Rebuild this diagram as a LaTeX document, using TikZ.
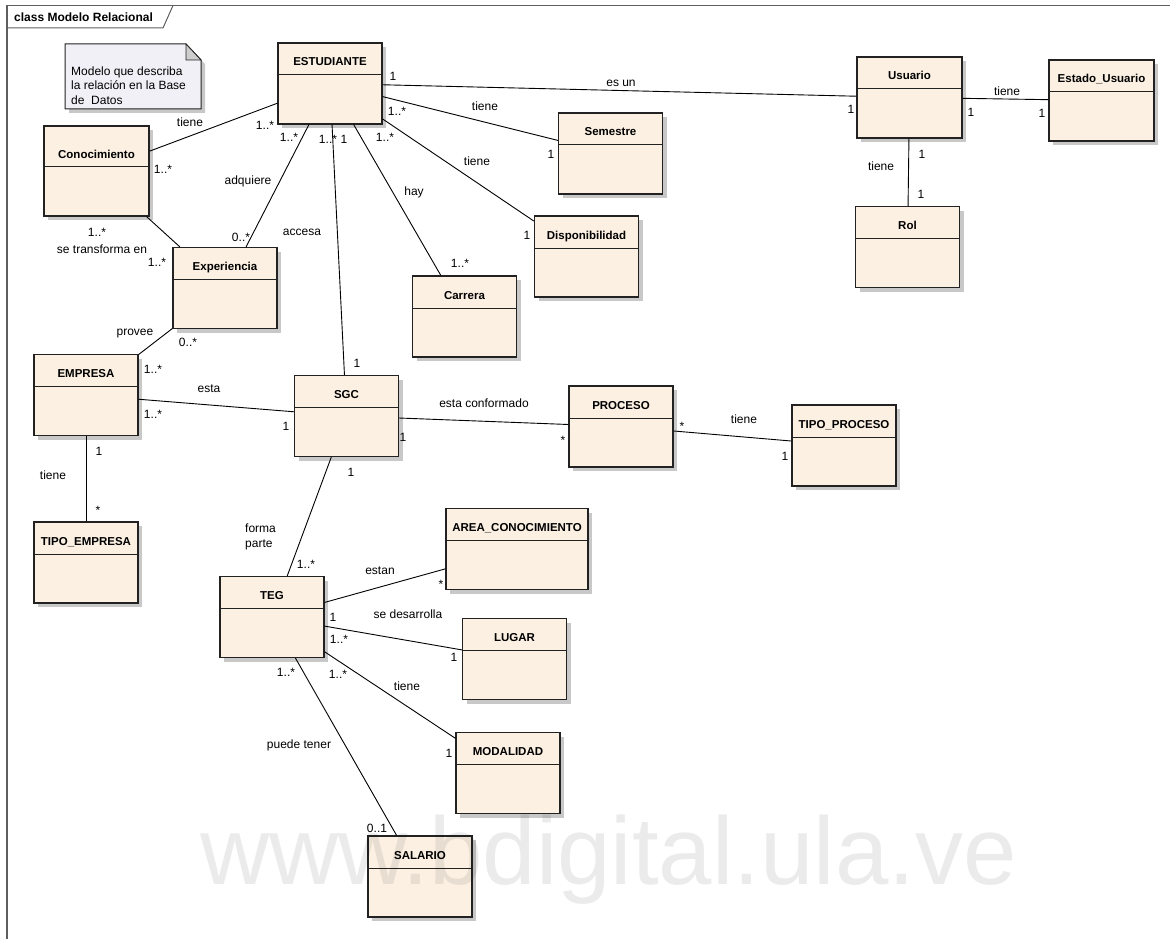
\documentclass[tikz,border=0pt]{standalone}
\usepackage{fontspec}
\setmainfont{Liberation Sans}
\usepackage{tikz}
\usetikzlibrary{shadows}

\definecolor{claseFondo}{RGB}{251,240,226}
\definecolor{claseBorde}{RGB}{34,34,34}
\definecolor{sombra}{RGB}{200,200,200}
\definecolor{notaFondo}{RGB}{242,240,247}
\definecolor{pliegue}{RGB}{205,205,205}
\definecolor{marcoLinea}{RGB}{95,95,95}

\begin{document}
\begin{tikzpicture}[x=1pt,y=-1pt]
\tikzset{
	clase/.style = {rectangle, draw=claseBorde, fill=claseFondo, line width=1.2pt, inner sep=0pt,
		minimum width=104pt, minimum height=81pt, text height=23pt, text depth=58pt,
		font=\fontsize{11.5}{13}\selectfont\bfseries,
		drop shadow={shadow xshift=4pt, shadow yshift=-4pt, fill=sombra, opacity=1},
		path picture={\draw[claseBorde, line width=1pt]
			([yshift=-#1pt]path picture bounding box.north west) --
			([yshift=-#1pt]path picture bounding box.north east);}},
	clase/.default = 32,
	rel/.style = {draw=black, line width=0.9pt},
	mult/.style = {font=\fontsize{12}{15}\selectfont, inner sep=0pt, anchor=base},
	marco/.style = {draw=marcoLinea, line width=1.6pt}
}
\useasboundingbox (0,0) rectangle (1170,939);

% frame and its tab
\draw[marco] (1170,5.5) -- (7,5.5) -- (7,939);
\draw[draw=marcoLinea, line width=1pt] (173,5.5) -- (163,28) -- (7,28);
\node[font=\fontsize{12}{14}\selectfont\bfseries, anchor=base west, inner sep=0pt] (titulo) at (14,22) {class Modelo Relacional};

% note
\draw[claseBorde, fill=notaFondo, line width=1pt,
	drop shadow={shadow xshift=4pt, shadow yshift=-4pt, fill=sombra, opacity=1}]
	(65,44) -- (186,44) -- (201,60) -- (201,109) -- (65,109) -- cycle;
\filldraw[fill=pliegue, draw=claseBorde, line width=0.8pt] (186,44) -- (186,60) -- (201,60) -- cycle;
\node[font=\fontsize{12}{14.5}\selectfont, align=left, anchor=west, inner sep=0pt] (nota) at (71,85.6)
	{Modelo que describa\\la relación en la Base\\de\ \ Datos};

% classes
\node[clase] (estudiante) at (330,83.5) {ESTUDIANTE};
\node[clase=41, minimum width=105pt, minimum height=90pt, text height=32pt] (conocimiento) at (96.5,171) {Conocimiento};
\node[clase, minimum width=105pt] (usuario) at (909.5,97.5) {Usuario};
\node[clase, minimum width=105pt] (estado) at (1101.5,100.5) {Estado\_Usuario};
\node[clase] (rol) at (907.5,247) {Rol};
\node[clase] (semestre) at (610.5,153.5) {Semestre};
\node[clase] (disponibilidad) at (586.5,256.5) {Disponibilidad};
\node[clase] (carrera) at (464.5,316.5) {Carrera};
\node[clase] (experiencia) at (225,288) {Experiencia};
\node[clase] (empresa) at (86,395) {EMPRESA};
\node[clase] (sgc) at (346.5,416) {SGC};
\node[clase] (tipoempresa) at (86,562.5) {TIPO\_EMPRESA};
\node[clase] (proceso) at (621,426.5) {PROCESO};
\node[clase] (tipoproceso) at (844,445.5) {TIPO\_PROCESO};
\node[clase, minimum width=142pt] (area) at (517,549) {AREA\_CONOCIMIENTO};
\node[clase] (teg) at (272,617) {TEG};
\node[clase] (lugar) at (514.5,659) {LUGAR};
\node[clase] (modalidad) at (508,773) {MODALIDAD};
\node[clase] (salario) at (420,876.5) {SALARIO};

% associations
\draw[rel] (estudiante) -- (usuario);
\draw[rel] (usuario) -- (estado);
\draw[rel] (usuario) -- (rol);
\draw[rel] (estudiante) -- (semestre);
\draw[rel] (estudiante) -- (disponibilidad);
\draw[rel] (estudiante) -- (carrera);
\draw[rel] (estudiante) -- (sgc);
\draw[rel] (estudiante) -- (experiencia);
\draw[rel] (estudiante) -- (conocimiento);
\draw[rel] (conocimiento) -- (experiencia);
\draw[rel] (experiencia) -- (empresa);
\draw[rel] (empresa) -- (sgc);
\draw[rel] (empresa) -- (tipoempresa);
\draw[rel] (sgc) -- (proceso);
\draw[rel] (proceso) -- (tipoproceso);
\draw[rel] (sgc) -- (teg);
\draw[rel] (teg) -- (area);
\draw[rel] (teg) -- (lugar);
\draw[rel] (teg) -- (modalidad);
\draw[rel] (teg) -- (salario);

% role names and multiplicities
\node[mult] (esun) at (621,87) {es un};
\node[mult] (esun1) at (393,81) {1};
\node[mult] (esun2) at (851,114) {1};

\node[mult] (usest) at (1007,96) {tiene};
\node[mult] (usest1) at (971,117) {1};
\node[mult] (usest2) at (1042,118) {1};

\node[mult] (usrol) at (881,171) {tiene};
\node[mult] (usrol1) at (922,158) {1};
\node[mult] (usrol2) at (921,198) {1};

\node[mult] (essem) at (485,111) {tiene};
\node[mult] (essem1) at (397,116) {1..*};
\node[mult] (essem2) at (551,158) {1};

\node[mult] (esdis) at (477,165) {tiene};
\node[mult] (esdis1) at (385,142) {1..*};
\node[mult] (esdis2) at (527,239) {1};

\node[mult] (escar) at (414,195) {hay};
\node[mult] (escar1) at (344,144) {1};
\node[mult] (escar2) at (460,267) {1..*};

\node[mult] (essgc) at (302,235) {accesa};
\node[mult] (essgc1) at (328,144) {1..*};
\node[mult] (essgc2) at (357,367) {1};

\node[mult] (esexp) at (248,184) {adquiere};
\node[mult] (esexp1) at (289,142) {1..*};
\node[mult] (esexp2) at (241,241) {0..*};

\node[mult] (escon) at (190,127) {tiene};
\node[mult] (escon1) at (265,130) {1..*};
\node[mult] (escon2) at (163,174) {1..*};

\node[mult] (conexp) at (102,253) {se transforma en};
\node[mult] (conexp1) at (97,236) {1..*};
\node[mult] (conexp2) at (157,266) {1..*};

\node[mult] (expemp) at (135,335) {provee};
\node[mult] (expemp1) at (188,346) {0..*};
\node[mult] (expemp2) at (153,373) {1..*};

\node[mult] (empsgc) at (209,392) {esta};
\node[mult] (empsgc1) at (153,418) {1..*};
\node[mult] (empsgc2) at (286,430) {1};

\node[mult] (emptip) at (53,479) {tiene};
\node[mult] (emptip1) at (99,455) {1};
\node[mult] (emptip2) at (98,514) {*};

\node[mult] (sgcpro) at (484,407) {esta conformado};
\node[mult] (sgcpro1) at (403,441) {1};
\node[mult] (sgcpro2) at (563,444) {*};

\node[mult] (protip) at (744,423) {tiene};
\node[mult] (protip1) at (682,430) {*};
\node[mult] (protip2) at (785,460) {1};

\node[mult, anchor=west, align=left] (sgcteg) at (245,536.4) {forma\\parte};
\node[mult] (sgcteg1) at (351,476) {1};
\node[mult] (sgcteg2) at (306,568) {1..*};

\node[mult] (tegare) at (380,574) {estan};
\node[mult] (tegare2) at (441,588) {*};

\node[mult] (teglug) at (408,618) {se desarrolla};
\node[mult] (teglug0) at (333,621) {1};
\node[mult] (teglug1) at (339,643) {1..*};
\node[mult] (teglug2) at (454,661) {1};

\node[mult] (tegmod) at (407,690) {tiene};
\node[mult] (tegmod1) at (338,678) {1..*};
\node[mult] (tegmod2) at (449,757) {1};

\node[mult] (tegsal) at (299,748) {puede tener};
\node[mult] (tegsal1) at (286,676) {1..*};
\node[mult] (tegsal2) at (377,832) {0..1};

% repository mark over everything
\node[anchor=base west, inner sep=0pt, font=\fontsize{96}{96}\selectfont, text=black, text opacity=0.08] (marca) at (200,884) {www.bdigital.ula.ve};
\end{tikzpicture}
\end{document}
